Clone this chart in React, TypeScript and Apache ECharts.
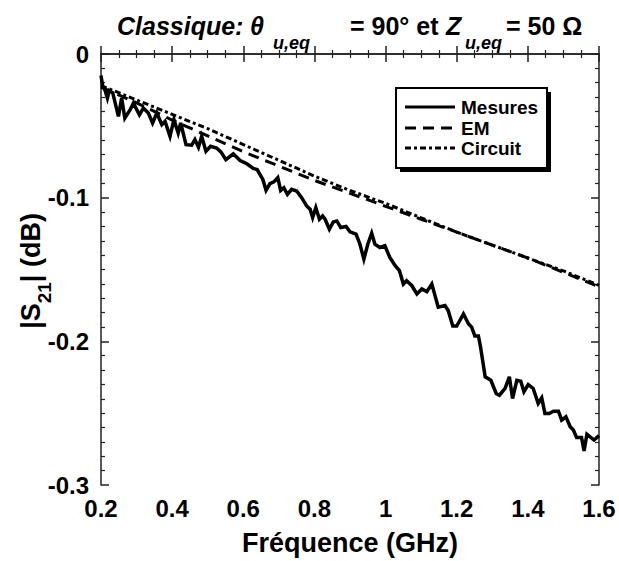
import React, { useEffect, useRef } from "react";
import * as echarts from "echarts";

const FONT = "'Liberation Sans', Arial, Helvetica, sans-serif";

// Measured |S21| (dB) vs frequency (GHz)
const mesuresFreq = [
  0.2, 0.205, 0.211, 0.218, 0.223, 0.233, 0.249, 0.258, 0.267, 0.282, 0.291, 0.308, 0.319, 0.333, 0.345,
  0.357, 0.371, 0.38, 0.394, 0.405, 0.417, 0.424, 0.439, 0.455, 0.464, 0.474, 0.483, 0.495, 0.508, 0.525,
  0.537, 0.551, 0.572, 0.591, 0.61, 0.628, 0.639, 0.655, 0.664, 0.675, 0.686, 0.697, 0.705, 0.714, 0.724,
  0.736, 0.75, 0.764, 0.778, 0.788, 0.795, 0.804, 0.814, 0.823, 0.83, 0.842, 0.853, 0.863, 0.874, 0.889,
  0.9, 0.917, 0.928, 0.939, 0.95, 0.961, 0.97, 0.984, 0.998, 1.012, 1.027, 1.039, 1.05, 1.059, 1.074,
  1.088, 1.102, 1.116, 1.13, 1.139, 1.148, 1.167, 1.176, 1.189, 1.2, 1.219, 1.233, 1.242, 1.251, 1.261,
  1.267, 1.28, 1.296, 1.311, 1.32, 1.336, 1.348, 1.357, 1.369, 1.38, 1.389, 1.401, 1.415, 1.429, 1.439,
  1.448, 1.46, 1.472, 1.486, 1.495, 1.507, 1.519, 1.528, 1.537, 1.551, 1.558, 1.566, 1.586, 1.6,
];
const mesuresDb = [
  -0.015, -0.0226, -0.025, -0.0307, -0.0256, -0.027, -0.0434, -0.0307, -0.0446, -0.0388, -0.0342, -0.0423,
  -0.0376, -0.0411, -0.048, -0.0411, -0.0492, -0.0469, -0.0573, -0.0457, -0.055, -0.048, -0.0631, -0.0635,
  -0.0596, -0.0649, -0.0573, -0.0677, -0.0642, -0.0654, -0.0681, -0.0735, -0.0695, -0.0741, -0.0764,
  -0.0797, -0.0804, -0.0873, -0.0949, -0.0902, -0.089, -0.0861, -0.095, -0.0931, -0.0977, -0.0942,
  -0.0954, -0.1, -0.1058, -0.1081, -0.1139, -0.1069, -0.115, -0.1127, -0.115, -0.122, -0.1169, -0.1162,
  -0.1208, -0.1201, -0.1238, -0.1254, -0.1324, -0.1428, -0.1324, -0.1247, -0.1324, -0.1347, -0.1335,
  -0.1416, -0.1474, -0.1508, -0.1601, -0.1578, -0.1613, -0.167, -0.1635, -0.1654, -0.1601, -0.1682,
  -0.1762, -0.1751, -0.1786, -0.1894, -0.1894, -0.1809, -0.1878, -0.1901, -0.1963, -0.1963, -0.2039,
  -0.2247, -0.2271, -0.2363, -0.2375, -0.2328, -0.2247, -0.2398, -0.2271, -0.2278, -0.2351, -0.2301,
  -0.2328, -0.2432, -0.2393, -0.2502, -0.2502, -0.2486, -0.2486, -0.2548, -0.2525, -0.2594, -0.2617,
  -0.267, -0.267, -0.2763, -0.2647, -0.2687, -0.2656,
];

const simFreq = [0.2, 0.3, 0.4, 0.5, 0.6, 0.7, 0.8, 0.9, 1.0, 1.1, 1.2, 1.3, 1.4, 1.5, 1.6];
const emDb = [
  -0.023, -0.034, -0.046, -0.057, -0.068, -0.078, -0.088, -0.097, -0.106, -0.115, -0.124, -0.133, -0.142,
  -0.152, -0.162,
];
const circuitDb = [
  -0.022, -0.032, -0.042, -0.052, -0.063, -0.074, -0.085, -0.095, -0.104, -0.114, -0.124, -0.133, -0.142,
  -0.151, -0.161,
];

const seriesNames = ["Mesures", "EM", "Circuit"];
const seriesDash: (number[] | null)[] = [null, [11, 7], [6, 3, 3, 3]];
const xTicks = { min: 0.2, max: 1.6, step: 0.2 };
const yTicks = { min: -0.3, max: 0, step: 0.1 };

export default function App() {
  const ref = useRef<HTMLDivElement>(null);

  useEffect(() => {
    if (!ref.current) return;
    const chart = echarts.init(ref.current, undefined, { renderer: "svg" });

    const axisLine = { lineStyle: { color: "#222", width: 1.5 } };
    const tick = { inside: true, length: 8, lineStyle: { color: "#222", width: 1.5 } };
    const minor = { show: true, length: 4, lineStyle: { color: "#222", width: 1.2 } };

    const txt = (
      text: string,
      x: number,
      y: number,
      size: number,
      italic: boolean,
      align = "left"
    ) => ({
      type: "text",
      x,
      y,
      style: {
        text,
        fontFamily: FONT,
        fontWeight: "bold",
        fontStyle: italic ? "italic" : "normal",
        fontSize: size,
        fill: "#000",
        align,
        verticalAlign: "middle",
      },
    });

    // Title pieces
    const tMain = 26;
    const tSub = 43;
    const title = [
      txt("Classique:", 117, tMain, 25, true),
      txt("θ", 250, tMain, 25, true),
      txt("u,eq", 273, tSub, 18, true),
      txt("= 90° et", 350, tMain, 25, false),
      txt("Z", 446, tMain, 25, true),
      txt("u,eq", 465, tSub, 18, true),
      txt("= 50 Ω", 506, tMain, 25, false),
    ];

    // Legend drawn as a framed box with shadow
    const lgX = 396, lgY = 88, lgW = 151, lgH = 80;
    const rowY = [107, 128, 148];
    const legend: any[] = [
      { type: "rect", shape: { x: lgX + 4, y: lgY + 4, width: lgW, height: lgH }, style: { fill: "#000" }, z: 10 },
      {
        type: "rect",
        shape: { x: lgX, y: lgY, width: lgW, height: lgH },
        style: { fill: "#fff", stroke: "#000", lineWidth: 2 },
        z: 11,
      },
    ];
    seriesNames.forEach((name, i) => {
      legend.push({
        type: "line",
        shape: { x1: 405, y1: rowY[i], x2: 455, y2: rowY[i] },
        style: { stroke: "#000", lineWidth: 3, lineDash: seriesDash[i] || undefined },
        z: 12,
      });
      legend.push({ ...txt(name, 461, rowY[i], 19, false), z: 12 });
    });

    const option: any = {
      animation: false,
      backgroundColor: "#fff",
      grid: { left: 101, top: 54, right: 20, bottom: 74, containLabel: false },
      xAxis: [
        {
          type: "value",
          min: xTicks.min,
          max: xTicks.max,
          interval: xTicks.step,
          position: "bottom",
          axisLine,
          axisTick: tick,
          minorTick: { ...minor, splitNumber: 4 },
          splitLine: { show: false },
          axisLabel: {
            margin: 11,
            fontFamily: FONT,
            fontWeight: "bold",
            fontSize: 24,
            color: "#000",
          },
          name: "Fréquence (GHz)",
          nameLocation: "middle",
          nameGap: 44,
          nameTextStyle: { fontFamily: FONT, fontWeight: "bold", fontSize: 27, color: "#000" },
        },
        {
          type: "value",
          min: xTicks.min,
          max: xTicks.max,
          interval: xTicks.step,
          position: "top",
          axisLine,
          axisTick: tick,
          minorTick: { ...minor, splitNumber: 4 },
          splitLine: { show: false },
          axisLabel: { show: false },
        },
      ],
      yAxis: [
        {
          type: "value",
          min: yTicks.min,
          max: yTicks.max,
          interval: yTicks.step,
          position: "left",
          axisLine,
          axisTick: tick,
          minorTick: { ...minor, splitNumber: 10 },
          splitLine: { show: false },
          axisLabel: {
            margin: 12,
            fontFamily: FONT,
            fontWeight: "bold",
            fontSize: 24,
            color: "#000",
          },
        },
        {
          type: "value",
          min: yTicks.min,
          max: yTicks.max,
          interval: yTicks.step,
          position: "right",
          axisLine,
          axisTick: tick,
          minorTick: { ...minor, splitNumber: 10 },
          splitLine: { show: false },
          axisLabel: { show: false },
        },
      ],
      graphic: [
        ...title,
        {
          type: "text",
          x: 16,
          y: 271,
          rotation: Math.PI / 2,
          style: {
            text: "{m||S}{s|21}{m|| (dB)}",
            align: "center",
            verticalAlign: "top",
            rich: {
              m: {
                fontFamily: FONT, fontWeight: "bold", fontSize: 27, fill: "#000", color: "#000",
                height: 30, lineHeight: 56, verticalAlign: "top",
              },
              s: {
                fontFamily: FONT, fontWeight: "bold", fontSize: 19, fill: "#000", color: "#000",
                height: 56, lineHeight: 56, verticalAlign: "top",
              },
            },
          },
        },
        ...legend,
      ],
      series: [
        {
          name: seriesNames[0],
          type: "line",
          data: mesuresFreq.map((f, i) => [f, mesuresDb[i]]),
          showSymbol: false,
          symbol: "none",
          lineStyle: { color: "#000", width: 3.5, type: "solid", join: "miter" },
          itemStyle: { color: "#000" },
        },
        {
          name: seriesNames[1],
          type: "line",
          data: simFreq.map((f, i) => [f, emDb[i]]),
          showSymbol: false,
          symbol: "none",
          lineStyle: { color: "#000", width: 3, type: seriesDash[1] },
          itemStyle: { color: "#000" },
        },
        {
          name: seriesNames[2],
          type: "line",
          data: simFreq.map((f, i) => [f, circuitDb[i]]),
          showSymbol: false,
          symbol: "none",
          lineStyle: { color: "#000", width: 3, type: seriesDash[2] },
          itemStyle: { color: "#000" },
        },
      ],
    };

    chart.setOption(option);
    return () => chart.dispose();
  }, []);

  return (
    <div
      ref={ref}
      style={{ position: "fixed", left: 0, top: 0, width: 619, height: 561, background: "#fff" }}
    />
  );
}
